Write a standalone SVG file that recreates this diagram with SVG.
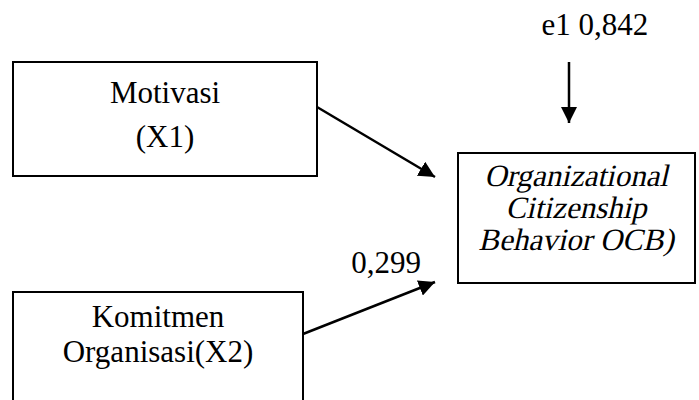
<svg xmlns="http://www.w3.org/2000/svg" width="699" height="400" viewBox="0 0 699 400">
<style>
.box{fill:#fff;stroke:#000;stroke-width:2}
text{font-family:"Liberation Serif","Times New Roman",serif;font-size:31px;fill:#000;text-anchor:middle}
.ln{stroke:#000;stroke-width:2.5;fill:none;marker-end:url(#ah)}
</style>
<defs>
<marker id="ah" viewBox="0 0 10 10" refX="10" refY="5" markerWidth="6.5" markerHeight="6.5" markerUnits="strokeWidth" orient="auto">
<path d="M0,0 L10,5 L0,10 z" fill="#000"/>
</marker>
</defs>
<rect width="699" height="400" fill="#fff"/>
<g id="connectors">
<line class="ln" x1="317" y1="107" x2="435" y2="177"/>
<line class="ln" x1="303" y1="334" x2="435" y2="282"/>
<line class="ln" x1="569" y1="62" x2="569" y2="123"/>
</g>
<g id="motivasi">
<rect class="box" x="13" y="62" width="304" height="114"/>
<text x="165" y="103">Motivasi</text>
<text x="165" y="147">(X1)</text>
</g>
<g id="komitmen">
<rect class="box" x="13" y="292" width="290" height="120"/>
<text x="158" y="327">Komitmen</text>
<text x="158" y="362">Organisasi(X2)</text>
</g>
<g id="ocb">
<rect class="box" x="458" y="153" width="237" height="130"/>
<text transform="translate(576,186) skewX(-13)">Organizational</text>
<text transform="translate(576,218) skewX(-13)">Citizenship</text>
<text transform="translate(576,250) skewX(-13)">Behavior OCB)</text>
</g>
<g id="labels">
<text x="595" y="35">e1 0,842</text>
<text x="386" y="273">0,299</text>
</g>
</svg>
